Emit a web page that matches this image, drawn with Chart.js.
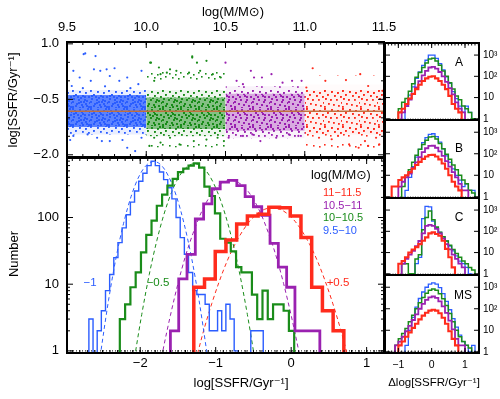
<!DOCTYPE html>
<html>
<head>
<meta charset="utf-8">
<script src="https://cdn.jsdelivr.net/npm/chart.js@4.4.1/dist/chart.umd.min.js"></script>
<style>
  html, body { margin: 0; padding: 0; background: #fff; }
  #fig { position: relative; width: 500px; height: 399px; overflow: hidden; background: #fff; }
  #fig canvas { position: absolute; }
</style>
</head>
<body>
<div id="fig">
  <canvas id="scatter" width="400" height="172" style="left:0;top:0"></canvas>
  <canvas id="hist" width="400" height="249" style="left:0;top:150px"></canvas>
  <canvas id="panelA" width="120" height="100" style="left:380px;top:30px"></canvas>
  <canvas id="panelB" width="120" height="100" style="left:380px;top:110px"></canvas>
  <canvas id="panelC" width="120" height="100" style="left:380px;top:188px"></canvas>
  <canvas id="panelMS" width="120" height="134" style="left:380px;top:265px"></canvas>
</div>
<script>
// ---- top panel: SSFR vs stellar mass ----
const massEdges = [9.5, 10.0, 10.5, 11.0, 11.5];
const massTicks = [9.5, 10.0, 10.5, 11.0, 11.5];
const massTickLabels = ['9.5', '10.0', '10.5', '11.0', '11.5'];
const ssfrTicks = [1.0, -0.5, -2.0];
const ssfrTickLabels = ['1.0', '−0.5', '−2.0'];
const binLabels = ['9.5−10', '10−10.5', '10.5−11', '11−11.5'];

// how far the point cloud of each mass bin reaches: packed core, looser middle, thin edge
const coreTop = [-0.38, -0.45, -0.35, -0.25];
const coreBottom = [-1.25, -1.30, -1.35, -1.45];
const midTop = [-0.25, -0.25, -0.15, -0.10];
const midBottom = [-1.45, -1.50, -1.55, -1.70];
const haloTop = [0.0, 0.25, 0.05, 0.15];
const haloBottom = [-1.70, -1.80, -1.70, -1.95];
const fitLevel = -0.82;

// stray galaxies outside the dense band (mass, ssfr)
const blueDots = [[9.605,0.72],[9.615,0.74],[9.68,0.67],[9.54,0.27],[9.67,0.31],[9.71,0.27],[9.75,0.31],[9.80,0.34],
  [9.97,0.27],[9.58,0.09],[9.65,0.0],[9.77,0.13],[9.88,0.09],[9.53,-0.14],[9.83,0.0],[9.95,-0.09],[9.60,-0.2],
  [9.74,-0.15],[9.90,-0.2],[9.72,-1.63],[9.88,-1.81],[9.93,-1.90],[9.63,-1.45],[9.54,-1.49],[9.97,-1.54],
  [9.77,-1.63],[9.69,-1.54],[9.52,-1.6],[9.85,-1.6]];
const greenDots = [[10.025,0.49],[10.08,0.36],[10.15,0.31],[10.19,0.27],[10.29,0.63],[10.32,0.49],[10.38,0.54],
  [10.09,0.18],[10.13,0.22],[10.27,0.22],[10.34,0.27],[10.42,0.18],[10.05,0.0],[10.47,0.09],[10.29,0.66],
  [10.03,0.49],[10.05,-1.54],[10.09,-1.67],[10.15,-1.54],[10.21,-1.72],[10.30,-1.63],[10.38,-1.59],
  [10.45,-1.54],[10.49,-1.63],[10.02,-1.76]];
const purpleDots = [[10.5,0.49],[10.66,0.27],[10.68,0.09],[10.73,0.09],[10.79,0.18],[10.92,0.0],[10.98,0.0],
  [10.57,0.0],[10.61,-0.09],[10.86,-0.05],[10.72,-1.63],[10.52,-1.54],[10.61,-1.49],[10.82,-1.54],
  [10.90,-1.45],[10.96,-1.49],[10.67,-1.45]];
const redDots = [[11.05,0.34],[11.35,0.18],[11.13,0.0],[11.26,0.02],[11.40,-0.14],[11.49,-0.27],[11.01,-0.18],
  [11.09,-1.54],[11.17,-1.58],[11.28,-1.72],[11.34,-1.81],[11.40,-1.76],[11.47,-1.72],[11.21,-1.49],
  [11.38,-1.63],[11.45,-1.54]];

// ---- bottom panel: shifted SSFR histograms (first edge, bin width, counts) ----
const blueStart = -2.68, blueWidth = 0.055;
const blueCounts = [3,0,2,4,8,14,25,42,70,110,170,250,350,460,600,700,600,480,370,280,
  190,100,50,28,15,8,7,7,5,2,2,4,2,5,3,1,0,0,0,2,2,2];
const greenStart = -2.27, greenWidth = 0.07;
const greenCounts = [3,5,9,15,30,55,90,150,220,300,380,480,540,600,650,560,290,210,115,48,
  42,31,18,15,15,7,3,8,3,5,5,4,2];
const purpleStart = -1.6, purpleWidth = 0.11;
const purpleCounts = [2,12,28,95,160,270,340,360,300,205,145,108,41,18,9,2,2,2];
const redStart = -1.29, redWidth = 0.142;
const redCounts = [9,12,31,46,80,105,112,142,140,105,50,9,4,2];

// dashed gaussian fits
const blueFitX = [-2.57,-2.52,-2.42,-2.32,-2.22,-2.12,-2.02,-1.92,-1.82,-1.72,-1.62,-1.52,-1.42,-1.32,-1.22,-1.12,-1.07];
const blueFitY = [0.4,1,5.7,25,82,208,405,605,692,605,405,208,82,25,5.7,1,0.4];
const greenFitX = [-2.13,-2.06,-1.98,-1.88,-1.78,-1.68,-1.58,-1.48,-1.38,-1.28,-1.18,-1.08,-0.98,-0.88,-0.78,-0.68,-0.58,-0.50,-0.43];
const greenFitY = [0.3,1,3.5,14,45,117,246,420,575,640,575,420,246,117,45,14,3.5,1,0.3];
const purpleFitX = [-1.75,-1.70,-1.60,-1.50,-1.40,-1.30,-1.20,-1.10,-1.00,-0.90,-0.80,-0.70,-0.60,-0.50,-0.40,-0.30,-0.20,-0.10,0.00,0.10,0.15];
const purpleFitY = [0.5,1,3.4,10.2,26.5,58,113,188,270,334,360,334,270,188,113,58,26.5,10.2,3.4,1,0.5];
const redFitX = [-1.35,-1.25,-1.15,-1.05,-0.95,-0.85,-0.75,-0.65,-0.55,-0.45,-0.35,-0.25,-0.15,-0.05,0.05,0.15,0.25,0.35,0.45,0.55,0.65,0.75,0.85];
const redFitY = [0.28,0.82,2.2,5.2,11.2,22,38.6,61,88,114,133,140,133,114,88,61,38.6,22,11.2,5.2,2.2,0.82,0.28];

const histTicks = [-2, -1, 0, 1];
const histTickLabels = ['−2', '−1', '0', '1'];
const countTicks = [1, 10, 100];
const countTickLabels = ['1', '10', '100'];

// ---- right panels: Δlog SSFR, bins of 0.1; starts are for blue, green, purple, red ----
const deltaWidth = 0.1;
const aStarts = [-0.8, -1.0, -0.9, -1.0];
const aBlue = [4,13,32,80,160,330,570,1000,1000,700,400,200,95,47,19,9,4,2,4,2,1];
const aGreen = [3,6,9,20,45,90,150,260,420,650,700,520,330,180,100,50,25,12,8,4,3,2,1];
const aPurple = [2,4,8,15,30,60,110,180,260,280,230,160,100,55,28,14,6,3,2];
const aRed = [2,3,5,9,15,25,40,60,80,95,100,80,60,40,25,12,5,3,2];
const bStarts = [-0.8, -0.9, -1.0, -1.2];
const bBlue = [2,8,25,70,160,330,560,800,850,620,350,170,80,40,20,10,6,3,4,2,2];
const bGreen = [3,8,18,40,85,160,270,420,600,640,480,300,170,95,55,30,18,10,6,4,2,1.5];
const bPurple = [3,5,8,12,22,40,70,120,180,230,235,190,130,80,45,25,14,8,4,2,2];
const bRed = [3,3,6,8,10,14,20,30,42,58,75,88,89,75,55,35,20,10,5,3,2];
const cStarts = [-0.5, -0.9, -0.9, -1.0];
const cBlue = [3,6,400,1500,1400,300,150,90,55,35,20,12,7,4,3,2,1];
const cGreen = [3,3,1,1,5,8,120,450,900,350,160,90,55,35,22,14,9,6,4,3,2,1.5];
const cPurple = [3,5,8,12,20,35,80,180,200,180,130,80,45,25,14,8,5,3,2];
const cRed = [3,4,6,10,14,18,25,36,52,80,89,75,62,36,15,6,2];
const mStarts = [-0.8, -1.1, -1.1, -1.0];
const mBlue = [2,10,40,120,300,600,1000,1400,1600,1400,950,500,220,90,35,14,6,3,2,1,2];
const mGreen = [2,4,7,12,25,50,100,190,330,520,720,830,720,500,290,140,60,25,10,5,3,2,1.5];
const mPurple = [2,3,5,9,16,30,55,100,170,260,340,370,320,220,130,65,28,11,4,2,2];
const mRed = [2,3,5,8,13,20,32,48,65,82,90,82,62,38,20,9,4,2];
const panelNames = ['A', 'B', 'C', 'MS'];
const deltaTicks = [-1, 0, 1];
const deltaTickLabels = ['−1', '0', '1'];
const decadeTicks = [1, 10, 100, 1000];
const decadeTickLabels = ['1', '10', '10²', '10³'];

// ---- styling ----
const FONT = '"Liberation Sans", "DejaVu Sans", Arial, sans-serif';
const C = { blue: '#2b5dff', green: '#1a8c1a', purple: '#9a21b0', red: '#ff2b1c', fit: '#c0703f' };
const groupColors = [C.blue, C.green, C.purple, C.red];
Chart.defaults.font.family = FONT;
Chart.defaults.elements.point.radius = 0;

function rgba(hex, a) {
  const n = parseInt(hex.slice(1), 16);
  return `rgba(${n >> 16},${(n >> 8) & 255},${n & 255},${a})`;
}

// speckled fill so the packed bands look like piled-up points
const DOTS = [[0,0],[7,1],[13,2],[3,4],[10,5],[16,6],[1,8],[6,9],[12,9],[17,12],[4,13],[9,14],[14,15],[0,16],[7,17],[11,11],
  [2,2],[9,3],[15,0],[5,6],[12,6],[0,11],[8,7],[14,10],[3,15],[10,16],[16,16],[6,12],[13,13],[1,5],[17,3],[8,11]];
function speckle(color, base, n, size) {
  const c = document.createElement('canvas');
  c.width = 18; c.height = 18;
  const g = c.getContext('2d');
  if (base > 0) {
    g.fillStyle = rgba(color, base);
    g.fillRect(0, 0, 18, 18);
  }
  g.fillStyle = color;
  DOTS.slice(0, n).forEach(([x, y]) => g.fillRect(x, y, size, size));
  return g.createPattern(c, 'repeat');
}

function steps(start, width, counts, floor) {
  const pts = [{ x: start, y: floor }];
  counts.forEach((c, i) => pts.push({ x: start + i * width, y: c > 0 ? c : floor }));
  pts.push({ x: start + counts.length * width, y: floor });
  return pts;
}
function hist(start, width, counts, color, lw, order) {
  return { data: steps(start, width, counts, 0.5), borderColor: color, borderWidth: lw,
    stepped: 'before', fill: false, order };
}
function fitCurve(xs, ys, color) {
  return { data: xs.map((x, i) => ({ x, y: ys[i] })), borderColor: color, borderWidth: 1,
    borderDash: [4, 3], cubicInterpolationMode: 'monotone', fill: false, order: 6 };
}
function seq(from, to, step) {
  const out = [];
  for (let v = from; v <= to + 1e-9; v += step) out.push(+v.toFixed(3));
  return out;
}
const logMinor = max => [1, 10, 100, 1000].flatMap(d => [2,3,4,5,6,7,8,9].map(k => k * d)).filter(v => v < max);

const FRAMES = {};
const framePlugin = {
  id: 'frame',
  afterDatasetsDraw(chart) {
    const f = FRAMES[chart.canvas.id];
    const { ctx, chartArea: a } = chart;
    const sx = chart.scales.x, sy = chart.scales.y;
    ctx.save();
    ctx.strokeStyle = '#000';
    ctx.lineWidth = 1;
    ctx.beginPath();
    const xt = (vals, len) => vals.forEach(v => {
      const p = sx.getPixelForValue(v);
      if (f.xSides.includes('top')) { ctx.moveTo(p, a.top); ctx.lineTo(p, a.top + len); }
      if (f.xSides.includes('bottom')) { ctx.moveTo(p, a.bottom); ctx.lineTo(p, a.bottom - len); }
    });
    const yt = (vals, len) => vals.forEach(v => {
      const p = sy.getPixelForValue(v);
      if (f.ySides.includes('left')) { ctx.moveTo(a.left, p); ctx.lineTo(a.left + len, p); }
      if (f.ySides.includes('right')) { ctx.moveTo(a.right, p); ctx.lineTo(a.right - len, p); }
    });
    xt(f.xMajor, f.majorLen); xt(f.xMinor, f.minorLen);
    yt(f.yMajor, f.majorLen); yt(f.yMinor, f.minorLen);
    ctx.stroke();
    ctx.lineWidth = f.border;
    ctx.strokeRect(a.left, a.top, a.right - a.left, a.bottom - a.top);

    ctx.fillStyle = '#000';
    ctx.textBaseline = 'middle';
    if (f.xLabels) {
      const L = f.xLabels;
      ctx.font = L.size + 'px ' + FONT;
      ctx.textAlign = 'center';
      L.values.forEach((v, i) => ctx.fillText(L.labels[i], sx.getPixelForValue(v),
        L.side === 'top' ? a.top - L.off : a.bottom + L.off));
    }
    if (f.yLabels) {
      const L = f.yLabels;
      ctx.font = L.size + 'px ' + FONT;
      ctx.textAlign = L.side === 'left' ? 'right' : 'left';
      L.values.forEach((v, i) => ctx.fillText(L.labels[i],
        L.side === 'left' ? a.left - L.off : a.right + L.off, sy.getPixelForValue(v)));
    }
    (f.texts || []).forEach(t => {
      ctx.save();
      ctx.font = t.size + 'px ' + FONT;
      ctx.fillStyle = t.color || '#000';
      ctx.textAlign = t.align || 'center';
      ctx.translate(t.x - f.ox, t.y - f.oy);
      if (t.rot) ctx.rotate(t.rot * Math.PI / 180);
      ctx.fillText(t.t, 0, 0);
      ctx.restore();
    });
    ctx.restore();
  }
};

function makeChart(id, datasets, xr, yr, yType, pad) {
  return new Chart(document.getElementById(id), {
    type: 'line',
    data: { datasets },
    options: {
      responsive: false, animation: false, devicePixelRatio: 1, events: [],
      layout: { padding: pad },
      scales: {
        x: { type: 'linear', display: false, min: xr[0], max: xr[1] },
        y: { type: yType, display: false, min: yr[0], max: yr[1] }
      },
      plugins: { legend: { display: false }, tooltip: { enabled: false } }
    },
    plugins: [framePlugin]
  });
}

// ---- top scatter panel ----
const outliers = [blueDots, greenDots, purpleDots, redDots];
// [base tint, dots per tile, dot size] for each layer and mass bin
const coreLook = [[0.75, 32, 2], [0.5, 26, 2], [0.35, 22, 2], [0.06, 14, 1.8]];
const midLook = [[0.1, 16, 1.8], [0.08, 14, 1.8], [0.06, 12, 1.8], [0.02, 8, 1.6]];
const haloLook = [[0, 4, 1.6], [0, 6, 1.6], [0, 5, 1.6], [0, 3, 1.6]];
const clear = 'rgba(0,0,0,0)';
const scatterSets = [{
  data: [{ x: massEdges[0], y: fitLevel }, { x: massEdges[4], y: fitLevel }],
  borderColor: C.fit, borderWidth: 1.5, order: 0
}];
groupColors.forEach((col, i) => {
  const flat = v => [{ x: massEdges[i], y: v }, { x: massEdges[i + 1], y: v }];
  const band = (top, bottom, look, order) => {
    scatterSets.push({ data: flat(top), fill: '+1', backgroundColor: speckle(col, ...look),
      borderColor: clear, borderWidth: 0, order });
    scatterSets.push({ data: flat(bottom), borderColor: clear, borderWidth: 0, order });
  };
  scatterSets.push({ data: outliers[i].map(([x, y]) => ({ x, y })), showLine: false,
    pointRadius: 1.1, pointBackgroundColor: col, pointBorderWidth: 0, order: 1 });
  band(haloTop[i], haloBottom[i], haloLook[i], 4);
  band(midTop[i], midBottom[i], midLook[i], 3);
  band(coreTop[i], coreBottom[i], coreLook[i], 2);
});
FRAMES.scatter = {
  ox: 0, oy: 0, border: 2, majorLen: 6, minorLen: 3,
  xMajor: massTicks, xMinor: seq(9.5, 11.5, 0.1), xSides: ['top', 'bottom'],
  yMajor: ssfrTicks, yMinor: [0.5, 0, -1.0, -1.5], ySides: ['left', 'right'],
  xLabels: { values: massTicks, labels: massTickLabels, side: 'top', off: 15, size: 13 },
  yLabels: { values: ssfrTicks, labels: ssfrTickLabels, side: 'left', off: 8, size: 13 },
  texts: [
    { t: 'log(M/M⊙)', x: 233, y: 12, size: 13 },
    { t: 'log[SSFR/Gyr⁻¹]', x: 13, y: 100, size: 13, rot: -90 }
  ]
};
makeChart('scatter', scatterSets, [9.5, 11.5], [-2.06, 1.05], 'linear',
  { left: 67, top: 42, right: 16, bottom: 15 });

// ---- bottom histogram panel ----
const histSets = [
  hist(redStart, redWidth, redCounts, C.red, 3.5, 1),
  hist(purpleStart, purpleWidth, purpleCounts, C.purple, 2.8, 2),
  hist(greenStart, greenWidth, greenCounts, C.green, 2.2, 3),
  hist(blueStart, blueWidth, blueCounts, C.blue, 1.4, 4),
  fitCurve(blueFitX, blueFitY, C.blue),
  fitCurve(greenFitX, greenFitY, C.green),
  fitCurve(purpleFitX, purpleFitY, C.purple),
  fitCurve(redFitX, redFitY, C.red),
  { data: [{ x: -2.97, y: 1 }, { x: 1.23, y: 1 }], borderColor: '#000', borderWidth: 1, borderDash: [1, 2], order: 8 }
];
FRAMES.hist = {
  ox: 0, oy: 150, border: 2, majorLen: 6, minorLen: 3,
  xMajor: histTicks, xMinor: seq(-2.9, 1.2, 0.1), xSides: ['top', 'bottom'],
  yMajor: countTicks, yMinor: logMinor(780), ySides: ['left', 'right'],
  xLabels: { values: histTicks, labels: histTickLabels, side: 'bottom', off: 10, size: 13 },
  yLabels: { values: countTicks, labels: countTickLabels, side: 'left', off: 8, size: 13 },
  texts: [
    { t: 'Number', x: 14, y: 254, size: 13, rot: -90 },
    { t: 'log[SSFR/Gyr⁻¹]', x: 241, y: 383, size: 13 },
    { t: 'log(M/M⊙)', x: 311, y: 176, size: 12.5, align: 'left' },
    { t: binLabels[3], x: 323, y: 193, size: 11, align: 'left', color: C.red },
    { t: binLabels[2], x: 323, y: 205.5, size: 11, align: 'left', color: C.purple },
    { t: binLabels[1], x: 323, y: 218, size: 11, align: 'left', color: C.green },
    { t: binLabels[0], x: 323, y: 230.5, size: 11, align: 'left', color: C.blue },
    { t: '−1', x: 90, y: 283, size: 11.5, color: C.blue },
    { t: '−0.5', x: 158, y: 283, size: 11.5, color: C.green },
    { t: '+0.5', x: 338, y: 283, size: 11.5, color: C.red }
  ]
};
makeChart('hist', histSets, [-2.97, 1.23], [0.93, 780], 'logarithmic',
  { left: 67, top: 8, right: 16, bottom: 46 });

// ---- right-hand Δ panels ----
function deltaSets(starts, blue, green, purple, red) {
  return [
    hist(starts[3], deltaWidth, red, C.red, 2.1, 1),
    hist(starts[2], deltaWidth, purple, C.purple, 1.8, 2),
    hist(starts[1], deltaWidth, green, C.green, 1.5, 3),
    hist(starts[0], deltaWidth, blue, C.blue, 1.3, 4),
    { data: [{ x: -1.4, y: 1 }, { x: 1.42, y: 1 }], borderColor: '#777', borderWidth: 1, borderDash: [1, 1.5], order: 8 }
  ];
}
const panels = [
  { id: 'panelA', top: 30, pad: { left: 5, top: 13, right: 21, bottom: 10 }, sets: deltaSets(aStarts, aBlue, aGreen, aPurple, aRed), xs: ['top'], label: [459, 62.5] },
  { id: 'panelB', top: 110, pad: { left: 5, top: 10, right: 21, bottom: 12 }, sets: deltaSets(bStarts, bBlue, bGreen, bPurple, bRed), xs: [], label: [459, 149] },
  { id: 'panelC', top: 188, pad: { left: 5, top: 10, right: 21, bottom: 13 }, sets: deltaSets(cStarts, cBlue, cGreen, cPurple, cRed), xs: [], label: [459, 218] },
  { id: 'panelMS', top: 265, pad: { left: 5, top: 10, right: 21, bottom: 46 }, sets: deltaSets(mStarts, mBlue, mGreen, mPurple, mRed), xs: ['bottom'], label: [463, 296] }
];
panels.forEach((p, i) => {
  FRAMES[p.id] = {
    ox: 380, oy: p.top, border: 2, majorLen: 5, minorLen: 2.5,
    xMajor: deltaTicks, xMinor: seq(-1.3, 1.4, 0.1), xSides: p.xs,
    yMajor: decadeTicks, yMinor: [], ySides: ['left', 'right'],
    yLabels: { values: decadeTicks, labels: decadeTickLabels, side: 'right', off: 4, size: 10 },
    xLabels: i === 3 ? { values: deltaTicks, labels: deltaTickLabels, side: 'bottom', off: 12, size: 10.5 } : null,
    texts: [{ t: panelNames[i], x: p.label[0], y: p.label[1], size: 12 }]
      .concat(i === 3 ? [{ t: 'Δlog[SSFR/Gyr⁻¹]', x: 434, y: 383, size: 11.5 }] : [])
  };
  makeChart(p.id, p.sets, [-1.4, 1.42], [0.88, 3700], 'logarithmic', p.pad);
});
</script>
</body>
</html>
